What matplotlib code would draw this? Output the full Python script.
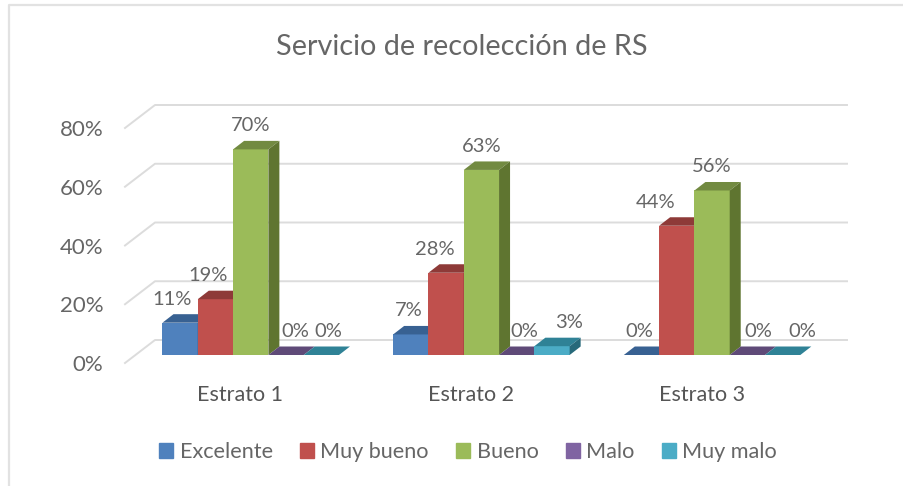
import numpy as np
import matplotlib
matplotlib.use('Agg')
import matplotlib.pyplot as plt
from matplotlib.lines import Line2D
from matplotlib.patches import Rectangle

plt.rcParams['font.family'] = ['Lato', 'DejaVu Sans']

estratos = ['Estrato 1', 'Estrato 2', 'Estrato 3']
excelente = [11, 7, 0]
muy_bueno = [19, 28, 44]
bueno = [70, 63, 56]
malo = [0, 0, 0]
muy_malo = [0, 3, 0]
series_names = ['Excelente', 'Muy bueno', 'Bueno', 'Malo', 'Muy malo']
y_ticks = [0, 20, 40, 60, 80]

series = [excelente, muy_bueno, bueno, malo, muy_malo]
front_cols = ['#4f81bd', '#c0504d', '#9bbb59', '#8064a2', '#4bacc6']
top_cols = ['#386192', '#8e3a38', '#728a41', '#5f4a78', '#2f8296']
side_cols = ['#2c4d75', '#7a302e', '#5f7530', '#4d3b62', '#27697a']

# nudges for the value labels, in pixels (the labels dodge each other)
label_dx = [[-8, -7, 0, 9, 7],
            [-2, -11, 0, 8, 17],
            [-2, -21, 0, 11, 20]]

W, H = 904, 486
fig = plt.figure(figsize=(W / 100, H / 100), dpi=100)
ax = fig.add_axes([125 / W, 1 - 363 / H, 692 / W, 235 / H])
ax.set_xlim(0, 3)
ax.set_ylim(0, 80)
ax.patch.set_alpha(0)
for s in ax.spines.values():
    s.set_visible(False)

px_x = 3 / 692  # one pixel in x data units
px_y = 80 / 235  # one pixel in y data units

# back wall and the diagonals going to it
wall_dx, wall_dy = 30 * px_x, 23 * px_y
for v in y_ticks:
    ax.plot([0, wall_dx, 3 + wall_dx], [v, v + wall_dy, v + wall_dy], color='#dcdcdc',
            lw=1.4, clip_on=False, zorder=1)

# bars
bar_w = 35.3 * px_x
base_x, base_y = 10.4 * px_x, 8 * px_y
depth_x, depth_y = 11 * px_x, 8.5 * px_y
for i in range(len(estratos)):
    left = i + 0.5 + base_x - 2.5 * bar_w
    for j in range(len(series)):
        v = series[j][i]
        x0 = left + j * bar_w
        x1 = x0 + bar_w
        top = v + base_y
        ax.bar(x0, v, bar_w, bottom=base_y, align='edge', color=front_cols[j], clip_on=False, zorder=3)
        ax.fill([x0, x1, x1 + depth_x, x0 + depth_x], [top, top, top + depth_y, top + depth_y],
                color=top_cols[j], lw=0, clip_on=False, zorder=3)
        if v > 0:
            ax.fill([x1, x1 + depth_x, x1 + depth_x, x1], [base_y, base_y + depth_y, top + depth_y, top],
                    color=side_cols[j], lw=0, clip_on=False, zorder=3)
        ax.annotate(str(v) + '%', (x0 + bar_w / 2, top), xytext=(label_dx[i][j] * 0.72, 23.5 * 0.72),
                    textcoords='offset points', ha='center', va='center', fontsize=14.5,
                    color='#666666', zorder=5, annotation_clip=False)

ax.set_yticks(y_ticks)
ax.set_yticklabels([str(v) + '%' for v in y_ticks], fontsize=16, color='#666666')
ax.set_xticks(np.arange(len(estratos)) + 0.5)
ax.set_xticklabels(estratos, fontsize=15.5, color='#555555')
ax.tick_params(axis='y', length=0, pad=15.5)
ax.tick_params(axis='x', length=0, pad=16)

fig.text(462 / W, 1 - 47 / H, 'Servicio de recolección de RS', ha='center', va='center',
         fontsize=20.8, color='#666666')

handles = [Rectangle((0, 0), 1, 1, color=c) for c in front_cols]
fig.legend(handles, series_names, loc='center', bbox_to_anchor=(468 / W, 1 - 452 / H), ncol=5,
           frameon=False, fontsize=15.6, labelcolor='#666666', handlelength=0.65, handleheight=0.65,
           handletextpad=0.3, columnspacing=1.25)

# only the top and left edges of the chart frame show
fig.add_artist(Line2D([9 / W, 9 / W, 1], [0, 1 - 5 / H, 1 - 5 / H], transform=fig.transFigure,
                      color='#e2e2e2', lw=1.6))

fig.savefig('out.png', dpi=100)
